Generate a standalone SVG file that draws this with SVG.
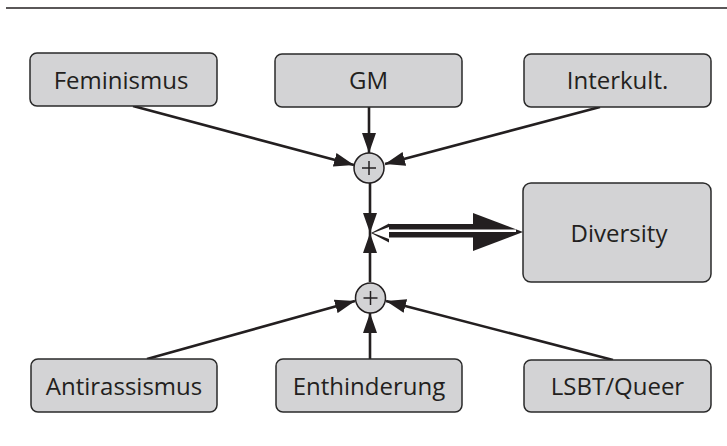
<svg xmlns="http://www.w3.org/2000/svg" width="727" height="446" viewBox="0 0 727 446">
<style>
.box{fill:#d3d3d5;stroke:#2a2a2a;stroke-width:1.5}
.lbl{font-family:"Open Sans","Liberation Sans",sans-serif;font-size:24px;fill:#231f20;text-anchor:middle}
.con{stroke:#231f20;stroke-width:2.6;fill:none}
.sum{fill:#d3d3d5;stroke:#231f20;stroke-width:1.5}
.plus{stroke:#231f20;stroke-width:1.5}
</style>
<defs>
<marker id="ah" markerUnits="userSpaceOnUse" markerWidth="20" markerHeight="14" refX="20" refY="7" orient="auto">
<path d="M0,0 L20,7 L0,14 z" fill="#231f20"/>
</marker>
</defs>
<rect width="727" height="446" fill="#ffffff"/>
<line x1="6" y1="8" x2="727" y2="8" stroke="#231f20" stroke-width="1.5"/>

<g id="connectors">
<line class="con" x1="133" y1="106" x2="354" y2="165" marker-end="url(#ah)"/>
<line class="con" x1="369" y1="107" x2="369" y2="153" marker-end="url(#ah)"/>
<line class="con" x1="600" y1="107" x2="385" y2="164" marker-end="url(#ah)"/>
<line class="con" x1="147" y1="359" x2="355" y2="301" marker-end="url(#ah)"/>
<line class="con" x1="370" y1="359" x2="370" y2="313" marker-end="url(#ah)"/>
<line class="con" x1="613" y1="360" x2="386" y2="301" marker-end="url(#ah)"/>
<line class="con" x1="370" y1="183" x2="370" y2="233" marker-end="url(#ah)"/>
<line class="con" x1="370" y1="282" x2="370" y2="233" marker-end="url(#ah)"/>
<g id="bigarrow">
<rect x="388" y="224" width="90" height="13.5" fill="#231f20"/>
<polygon points="473,213 523,232 473,251" fill="#231f20"/>
<polygon points="371,233 389,223.5 389,242.5" fill="#231f20"/>
<polygon points="373,233 389,227 389,239" fill="#ffffff"/>
<line x1="386" y1="230.7" x2="516" y2="230.7" stroke="#ffffff" stroke-width="2.6"/>
</g>
</g>

<g id="sum-top">
<circle class="sum" cx="369" cy="168" r="15"/>
<line class="plus" x1="362" y1="168" x2="376" y2="168"/>
<line class="plus" x1="369" y1="161" x2="369" y2="175"/>
</g>
<g id="sum-bottom">
<circle class="sum" cx="370.5" cy="298" r="15"/>
<line class="plus" x1="363.5" y1="298" x2="377.5" y2="298"/>
<line class="plus" x1="370.5" y1="291" x2="370.5" y2="305"/>
</g>

<g id="feminismus">
<rect class="box" x="30" y="53" width="187" height="53" rx="7"/>
<text class="lbl" x="121" y="89">Feminismus</text>
</g>
<g id="gm">
<rect class="box" x="275" y="54" width="187" height="53" rx="7"/>
<text class="lbl" x="368.5" y="89">GM</text>
</g>
<g id="interkult">
<rect class="box" x="524" y="54" width="187" height="53" rx="7"/>
<text class="lbl" x="617.5" y="89">Interkult.</text>
</g>
<g id="diversity">
<rect class="box" x="523" y="183" width="188" height="99" rx="8"/>
<text class="lbl" x="619" y="242">Diversity</text>
</g>
<g id="antirassismus">
<rect class="box" x="31" y="359" width="186" height="53" rx="7"/>
<text class="lbl" x="124" y="395">Antirassismus</text>
</g>
<g id="enthinderung">
<rect class="box" x="276" y="359" width="186" height="53" rx="7"/>
<text class="lbl" x="369" y="395">Enthinderung</text>
</g>
<g id="lsbt">
<rect class="box" x="524" y="360" width="187" height="52" rx="7"/>
<text class="lbl" x="617.5" y="395">LSBT/Queer</text>
</g>
</svg>
